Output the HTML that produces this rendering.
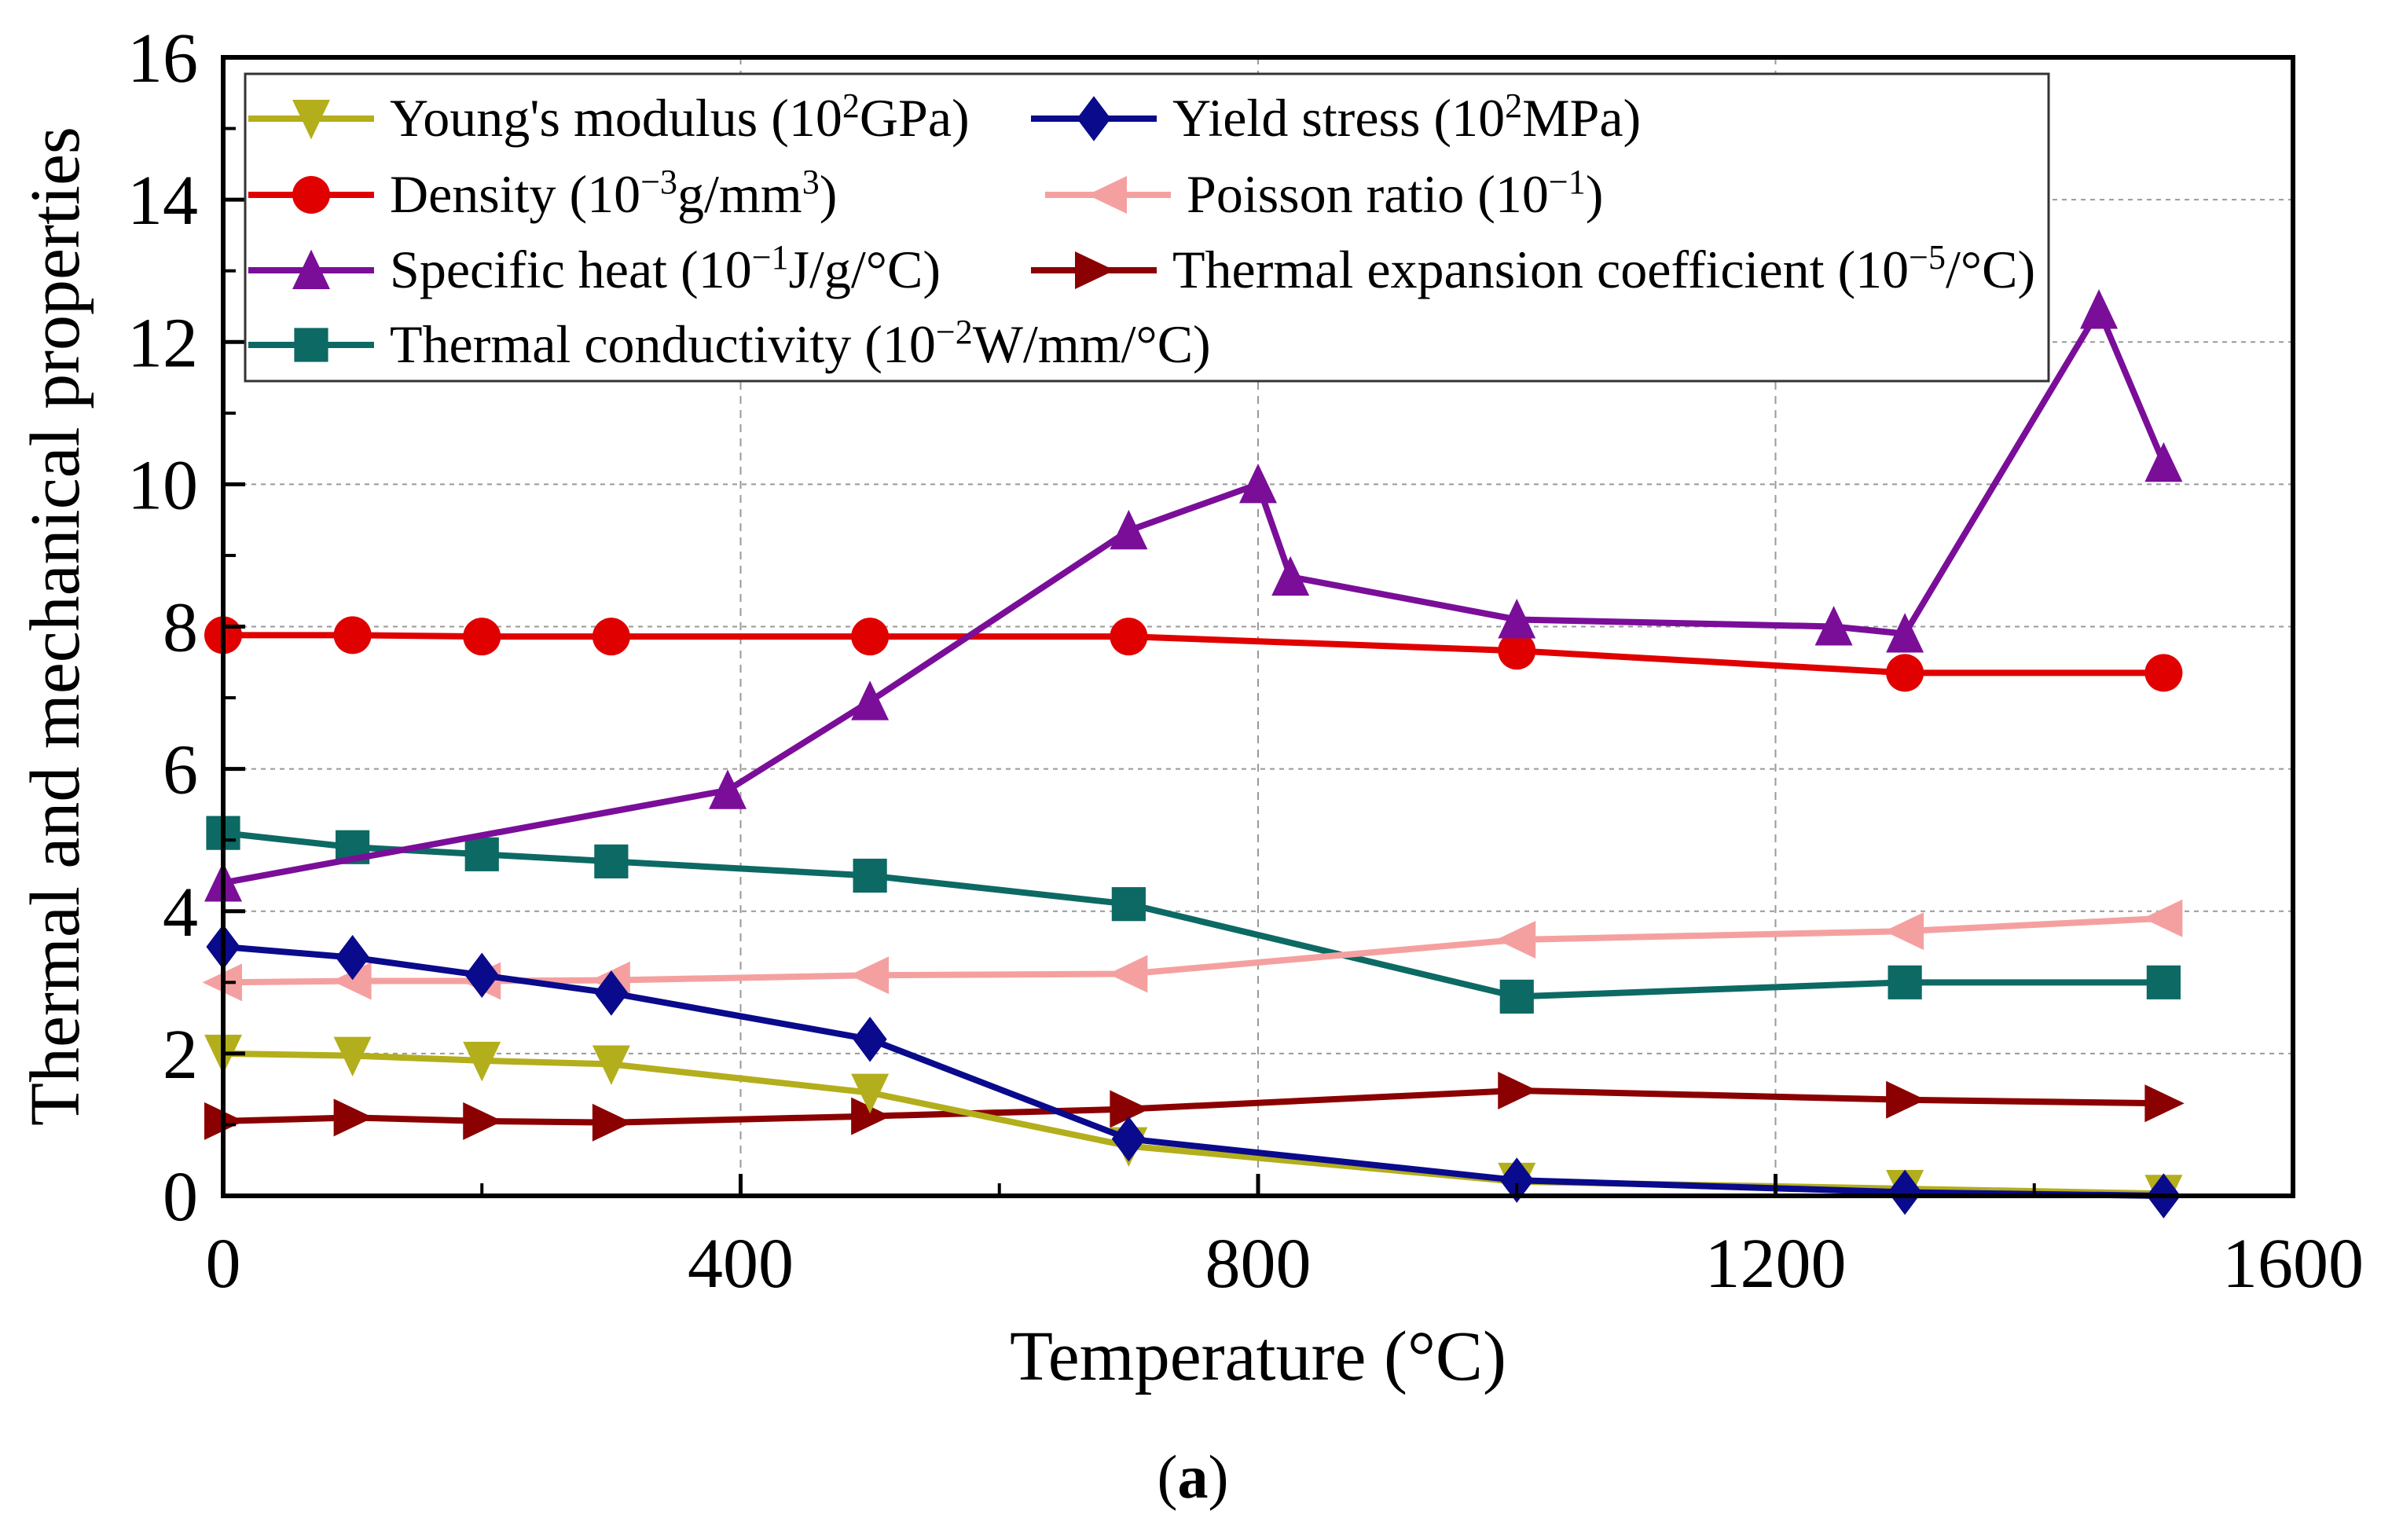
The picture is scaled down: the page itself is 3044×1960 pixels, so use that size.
<!DOCTYPE html>
<html><head><meta charset="utf-8"><style>
html,body{margin:0;padding:0;background:#fff;}
svg{display:block;font-family:"Liberation Serif",serif;}
</style></head><body>
<svg id="chart" width="3044" height="1960" viewBox="0 0 3044 1960" xmlns="http://www.w3.org/2000/svg">
<rect x="0" y="0" width="3044" height="1960" fill="#fff"/>
<g id="grid"></g>
<g id="series"></g>
<rect x="284" y="73" width="2634" height="1449" fill="none" stroke="#000" stroke-width="6"/>
<g id="ticks"></g>
<text transform="translate(100,797) rotate(-90)" text-anchor="middle" font-size="90">Thermal and mechanical properties</text>
<text x="1601" y="1756" text-anchor="middle" font-size="90">Temperature (°C)</text>
<text x="1518" y="1906" text-anchor="middle" font-size="78">(<tspan font-weight="bold">a</tspan>)</text>
<g id="legend"></g>
</svg>
<script>
const xTicks=[0,400,800,1200,1600];
const yTicks=[0,2,4,6,8,10,12,14,16];
const tempMain=[0,100,200,300,500,700,1000,1300,1500];
const youngs=[2.0,1.97,1.9,1.85,1.45,0.7,0.2,0.1,0.03];
const yieldStress=[3.5,3.35,3.1,2.85,2.2,0.8,0.22,0.05,0.0];
const density=[7.88,7.88,7.86,7.86,7.86,7.86,7.66,7.35,7.35];
const poisson=[3.0,3.02,3.02,3.03,3.1,3.12,3.6,3.72,3.9];
const tempHeat=[0,390,500,700,800,825,1000,1245,1300,1450,1500];
const specificHeat=[4.4,5.7,6.95,9.35,10.0,8.7,8.1,8.0,7.9,12.45,10.3];
const expansion=[1.05,1.1,1.05,1.03,1.12,1.22,1.48,1.35,1.3];
const conductivity=[5.1,4.9,4.8,4.7,4.5,4.1,2.8,3.0,3.0];

const NS="http://www.w3.org/2000/svg";
const X0=284,X1=2918,Y0=1522,Y1=73;
const sx=v=>X0+(v-0)/(1600-0)*(X1-X0);
const sy=v=>Y0-(v-0)/(16-0)*(Y0-Y1);
function mk(tag,attrs,parent){const e=document.createElementNS(NS,tag);for(const k in attrs)e.setAttribute(k,attrs[k]);parent.appendChild(e);return e;}
const grid=document.getElementById('grid'),ticks=document.getElementById('ticks'),ser=document.getElementById('series'),leg=document.getElementById('legend');

for(const t of xTicks){
  if(t>0&&t<1600){const l=mk('line',{x1:sx(t),x2:sx(t),y1:Y0,y2:Y1,stroke:'#999','stroke-width':2,'stroke-dasharray':'10,8'},grid);
  
  }
  const tk=mk('line',{x1:sx(t),x2:sx(t),y1:Y0,y2:Y0-28,stroke:'#000','stroke-width':5},ticks);
  
  
  const tx=mk('text',{x:sx(t),y:1638,'text-anchor':'middle','font-size':90},ticks);tx.textContent=t;
  
  
}
for(let t=200;t<1600;t+=400){const m=mk('line',{x1:sx(t),x2:sx(t),y1:Y0,y2:Y0-16,stroke:'#000','stroke-width':4},ticks);
  
  }
for(const t of yTicks){
  if(t>0&&t<16){const l=mk('line',{x1:X0,x2:X1,y1:sy(t),y2:sy(t),stroke:'#999','stroke-width':2,'stroke-dasharray':'6,6'},grid);
  
  }
  const tk=mk('line',{x1:X0,x2:X0+28,y1:sy(t),y2:sy(t),stroke:'#000','stroke-width':5},ticks);
  
  
  const tx=mk('text',{x:252,y:sy(t)+31,'text-anchor':'end','font-size':90},ticks);tx.textContent=t;
  
  
}
for(let t=1;t<16;t+=2){const m=mk('line',{x1:X0,x2:X0+16,y1:sy(t),y2:sy(t),stroke:'#000','stroke-width':4},ticks);
  
  }

const R=24;
function marker(shape,x,y,color,parent){
  let e;
  if(shape==='circle')e=mk('circle',{cx:x,cy:y,r:R,fill:color},parent);
  else if(shape==='square')e=mk('rect',{x:x-R*0.9,y:y-R*0.9,width:R*1.8,height:R*1.8,fill:color},parent);
  else{let p;
    if(shape==='down')p=[[x-R,y-R],[x+R,y-R],[x,y+R*1.1]];
    else if(shape==='up')p=[[x-R,y+R],[x+R,y+R],[x,y-R*1.1]];
    else if(shape==='left')p=[[x+R,y-R],[x+R,y+R],[x-R*1.1,y]];
    else if(shape==='right')p=[[x-R,y-R],[x-R,y+R],[x+R*1.1,y]];
    else if(shape==='diamond')p=[[x,y-R*1.2],[x+R*0.9,y],[x,y+R*1.2],[x-R*0.9,y]];
    e=mk('polygon',{points:p.map(q=>q.join(',')).join(' '),fill:color},parent);}
  return e;
}
function series(name,xs,ys,color,shape){
  const g=mk('g',{},ser);
  
  
  const pl=mk('polyline',{points:xs.map((x,i)=>sx(x)+','+sy(ys[i])).join(' '),fill:'none',stroke:color,'stroke-width':8,'stroke-linejoin':'round'},g);
  
  
  xs.forEach((x,i)=>{const m=marker(shape,sx(x),sy(ys[i]),color,g);
    
    });
}
const C={y:'#b3ae1c',ys:'#0a0a8c',d:'#e00000',p:'#f5a0a0',h:'#7a0e99',e:'#8b0000',c:'#0d6963'};
series('thermal-conductivity',tempMain,conductivity,C.c,'square');
series('poisson-ratio',tempMain,poisson,C.p,'left');
series('density',tempMain,density,C.d,'circle');
series('thermal-expansion',tempMain,expansion,C.e,'right');
series('youngs-modulus',tempMain,youngs,C.y,'down');
series('yield-stress',tempMain,yieldStress,C.ys,'diamond');
series('specific-heat',tempHeat,specificHeat,C.h,'up');

// legend
const box=mk('rect',{x:312,y:94,width:2295,height:391,fill:'#fff',stroke:'#333','stroke-width':3},leg);


const entries=[
 [316,151,C.y,'down','Young\'s modulus (10<tspan baseline-shift="super" font-size="44">2</tspan>GPa)','youngs'],
 [1312,151,C.ys,'diamond','Yield stress (10<tspan baseline-shift="super" font-size="44">2</tspan>MPa)','yield'],
 [316,248,C.d,'circle','Density (10<tspan baseline-shift="super" font-size="44">−3</tspan>g/mm<tspan baseline-shift="super" font-size="44">3</tspan>)','density'],
 [1330,248,C.p,'left','Poisson ratio (10<tspan baseline-shift="super" font-size="44">−1</tspan>)','poisson'],
 [316,344,C.h,'up','Specific heat (10<tspan baseline-shift="super" font-size="44">−1</tspan>J/g/°C)','specific-heat'],
 [1312,344,C.e,'right','Thermal expansion coefficient (10<tspan baseline-shift="super" font-size="44">−5</tspan>/°C)','expansion'],
 [316,439,C.c,'square','Thermal conductivity (10<tspan baseline-shift="super" font-size="44">−2</tspan>W/mm/°C)','conductivity']];
for(const [x,y,c,s,label,n] of entries){
  const g=mk('g',{},leg);
  
  
  mk('line',{x1:x,x2:x+160,y1:y,y2:y,stroke:c,'stroke-width':8},g);
  marker(s,x+80,y,c,g);
  const t=mk('text',{x:x+180,y:y+22,'font-size':68},g);
  t.innerHTML=label;
}
</script>
</body></html>
